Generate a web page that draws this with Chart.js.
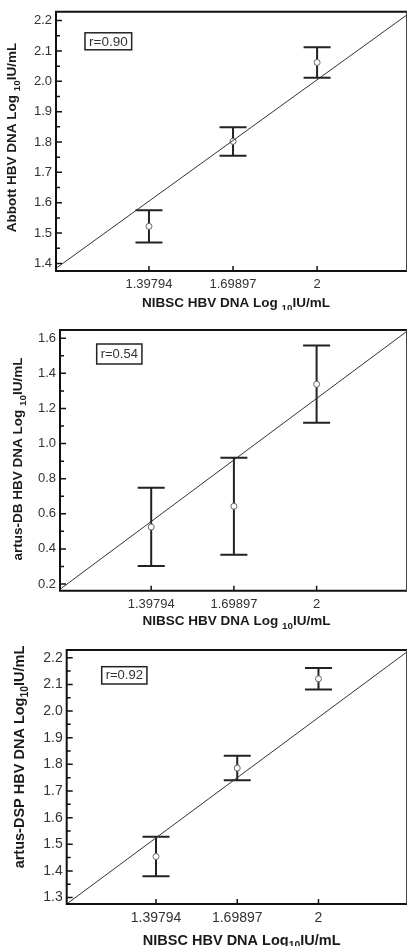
<!DOCTYPE html>
<html>
<head>
<meta charset="utf-8">
<script src="https://cdn.jsdelivr.net/npm/chart.js@4.4.1/dist/chart.umd.min.js"></script>
<style>
    html, body { margin: 0; padding: 0; background: #fff; }
    .panel { position: absolute; left: 0; }
</style>
</head>
<body>
<div class="panel" style="top:0"><canvas id="grafica1" width="412" height="310"></canvas></div>
<div class="panel" style="top:310px"><canvas id="grafica2" width="412" height="320"></canvas></div>
<div class="panel" style="top:630px"><canvas id="grafica3" width="412" height="316"></canvas></div>
<script>
// Valores NIBSC (eje x)
const xTicks = [1.39794, 1.69897, 2];
const xTickLabels = ["1.39794", "1.69897", "2"];

// Abbott
const abbottMeans = [1.522, 1.802, 2.062];
const abbottErrors = [0.053, 0.047, 0.050];
const abbottFit = [1.384, 2.219];
const abbottYTicks = [1.4, 1.5, 1.6, 1.7, 1.8, 1.9, 2.0, 2.1, 2.2];

// artus-DB
const dbMeans = [0.525, 0.643, 1.338];
const dbErrors = [0.223, 0.276, 0.220];
const dbFit = [0.170, 1.640];
const dbYTicks = [0.2, 0.4, 0.6, 0.8, 1.0, 1.2, 1.4, 1.6];

// artus-DSP
const dspMeans = [1.454, 1.786, 2.121];
const dspErrors = [0.074, 0.046, 0.040];
const dspFit = [1.276, 2.222];
const dspYTicks = [1.3, 1.4, 1.5, 1.6, 1.7, 1.8, 1.9, 2.0, 2.1, 2.2];

const FUENTE = '"Liberation Sans", Arial, sans-serif';

// Dibuja texto con subindice "10"
function textoConSub(ctx, partes, cx, cy, size) {
    let total = 0;
    partes.forEach(p => {
        ctx.font = "bold " + (p.sub ? size * 0.72 : size) + "px " + FUENTE;
        p.w = ctx.measureText(p.t).width;
        total += p.w;
    });
    let x = cx - total / 2;
    partes.forEach(p => {
        ctx.font = "bold " + (p.sub ? size * 0.72 : size) + "px " + FUENTE;
        ctx.fillText(p.t, x, cy + (p.sub ? size * 0.3 : 0));
        x += p.w;
    });
}

function crearGrafica(canvasId, o) {
    let ctx = document.getElementById(canvasId).getContext("2d");
    let puntos = xTicks.map((x, i) => ({ x: x, y: o.means[i] }));
    let recta = [{ x: o.xRange[0], y: o.fit[0] }, { x: o.xRange[1], y: o.fit[1] }];

    let marco = {
        id: "marco",
        beforeDatasetsDraw(chart) {
            let c = chart.ctx, xs = chart.scales.x, ys = chart.scales.y;
            c.save();
            c.strokeStyle = "#222";
            c.lineWidth = 2;
            xTicks.forEach((xv, i) => {
                let px = xs.getPixelForValue(xv);
                let top = ys.getPixelForValue(o.means[i] + o.errors[i]);
                let bot = ys.getPixelForValue(o.means[i] - o.errors[i]);
                c.beginPath();
                c.moveTo(px, top); c.lineTo(px, bot);
                c.moveTo(px - 13.5, top); c.lineTo(px + 13.5, top);
                c.moveTo(px - 13.5, bot); c.lineTo(px + 13.5, bot);
                c.stroke();
            });
            c.restore();
        },
        afterDatasetsDraw(chart) {
            let c = chart.ctx, a = chart.chartArea, xs = chart.scales.x, ys = chart.scales.y;
            c.save();
            c.strokeStyle = "#111";
            // ticks y (mayores y menores)
            c.lineWidth = 1.5;
            c.beginPath();
            o.yTicks.forEach((v, i) => {
                let py = ys.getPixelForValue(v);
                c.moveTo(a.left, py); c.lineTo(a.left + 6, py);
                let m = i < o.yTicks.length - 1 ? (v + o.yTicks[i + 1]) / 2 : v + (v - o.yTicks[i - 1]) / 2;
                if (m < ys.max) {
                    let pm = ys.getPixelForValue(m);
                    c.moveTo(a.left, pm); c.lineTo(a.left + 4, pm);
                }
            });
            let m0 = o.yTicks[0] - (o.yTicks[1] - o.yTicks[0]) / 2;
            if (m0 > ys.min) {
                let pm = ys.getPixelForValue(m0);
                c.moveTo(a.left, pm); c.lineTo(a.left + 4, pm);
            }
            xTicks.forEach(v => {
                let px = xs.getPixelForValue(v);
                c.moveTo(px, a.bottom); c.lineTo(px, a.bottom - 5);
            });
            c.stroke();
            // marco
            c.lineWidth = 2;
            c.beginPath();
            c.moveTo(a.right, a.top); c.lineTo(a.left, a.top); c.lineTo(a.left, a.bottom); c.lineTo(a.right, a.bottom);
            c.stroke();
            c.lineWidth = 1;
            c.strokeStyle = "#444";
            c.beginPath();
            c.moveTo(a.right - 0.5, a.top); c.lineTo(a.right - 0.5, a.bottom);
            c.stroke();
            // caja r
            let b = o.rBox;
            c.font = o.rFont + "px " + FUENTE;
            let w = c.measureText(o.rText).width;
            c.fillStyle = "#fff";
            c.fillRect(a.left + b.dx, a.top + b.dy, w + 8, b.h);
            c.strokeStyle = "#222";
            c.lineWidth = 1.5;
            c.strokeRect(a.left + b.dx, a.top + b.dy, w + 8, b.h);
            c.fillStyle = "#333";
            c.textBaseline = "middle";
            c.fillText(o.rText, a.left + b.dx + 4, a.top + b.dy + b.h / 2 + 0.5);
            c.restore();
        },
        afterDraw(chart) {
            let c = chart.ctx;
            c.save();
            c.fillStyle = "#1a1a1a";
            c.textBaseline = "alphabetic";
            textoConSub(c, o.xTitle, o.xTitlePos[0], o.xTitlePos[1], o.titleSize);
            c.translate(o.yTitlePos[0], o.yTitlePos[1]);
            c.rotate(-Math.PI / 2);
            textoConSub(c, o.yTitle, 0, 0, o.titleSize);
            c.restore();
        }
    };

    return new Chart(ctx, {
        type: "scatter",
        data: {
            datasets: [{
                data: recta,
                showLine: true,
                borderColor: "#333",
                borderWidth: 1,
                pointRadius: 0
            }, {
                data: puntos,
                pointRadius: 3,
                pointBackgroundColor: "#fff",
                pointBorderColor: "#666",
                pointBorderWidth: 1
            }]
        },
        options: {
            responsive: false,
            animation: false,
            layout: { padding: { top: o.area.top, right: o.area.right, left: 0, bottom: 0 } },
            plugins: { legend: { display: false }, tooltip: { enabled: false } },
            scales: {
                x: {
                    type: "linear",
                    min: o.xRange[0],
                    max: o.xRange[1],
                    grid: { display: false, drawTicks: false },
                    border: { display: false },
                    afterBuildTicks: s => { s.ticks = xTicks.map(v => ({ value: v })); },
                    afterFit: s => { s.height = o.area.xHeight; },
                    ticks: {
                        autoSkip: false, maxRotation: 0, padding: 6, color: "#333",
                        font: { family: FUENTE, size: o.tickSize },
                        callback: (v, i) => xTickLabels[i]
                    }
                },
                y: {
                    min: o.yRange[0],
                    max: o.yRange[1],
                    grid: { display: false, drawTicks: false },
                    border: { display: false },
                    afterBuildTicks: s => { s.ticks = o.yTicks.map(v => ({ value: v })); },
                    afterFit: s => { s.width = o.area.left; },
                    ticks: {
                        autoSkip: false, padding: 4, color: "#333",
                        font: { family: FUENTE, size: o.tickSize },
                        callback: v => v.toFixed(1)
                    }
                }
            }
        },
        plugins: [marco]
    });
}

crearGrafica("grafica1", {
    means: abbottMeans, errors: abbottErrors, fit: abbottFit, yTicks: abbottYTicks,
    xRange: [1.065, 2.322], yRange: [1.375, 2.229],
    area: { top: 6, right: 2, left: 56, xHeight: 39 },
    tickSize: 13, titleSize: 13.5, rFont: 13.5,
    rText: "r=0.90", rBox: { dx: 29, dy: 21, h: 17 },
    xTitle: [{ t: "NIBSC HBV DNA Log " }, { t: "10", sub: true }, { t: "IU/mL" }],
    xTitlePos: [236, 306.5],
    yTitle: [{ t: "Abbott HBV DNA Log " }, { t: "10", sub: true }, { t: "IU/mL" }],
    yTitlePos: [16, 137.5]
});

crearGrafica("grafica2", {
    means: dbMeans, errors: dbErrors, fit: dbFit, yTicks: dbYTicks,
    xRange: [1.066, 2.329], yRange: [0.162, 1.647],
    area: { top: 20, right: 2.5, left: 60, xHeight: 39.3 },
    tickSize: 13, titleSize: 13.5, rFont: 13,
    rText: "r=0.54", rBox: { dx: 36.7, dy: 14, h: 20 },
    xTitle: [{ t: "NIBSC HBV DNA Log " }, { t: "10", sub: true }, { t: "IU/mL" }],
    xTitlePos: [236.5, 315],
    yTitle: [{ t: "artus-DB HBV DNA Log " }, { t: "10", sub: true }, { t: "IU/mL" }],
    yTitlePos: [21.5, 149]
});

crearGrafica("grafica3", {
    means: dspMeans, errors: dspErrors, fit: dspFit, yTicks: dspYTicks,
    xRange: [1.067, 2.328], yRange: [1.276, 2.229],
    area: { top: 20, right: 2, left: 66.7, xHeight: 42 },
    tickSize: 14, titleSize: 14.5, rFont: 13,
    rText: "r=0.92", rBox: { dx: 35, dy: 16.7, h: 17.3 },
    xTitle: [{ t: "NIBSC HBV DNA Log" }, { t: "10", sub: true }, { t: "IU/mL" }],
    xTitlePos: [241.7, 315],
    yTitle: [{ t: "artus-DSP HBV DNA Log" }, { t: "10", sub: true }, { t: "IU/mL" }],
    yTitlePos: [24, 127]
});
</script>
</body>
</html>
